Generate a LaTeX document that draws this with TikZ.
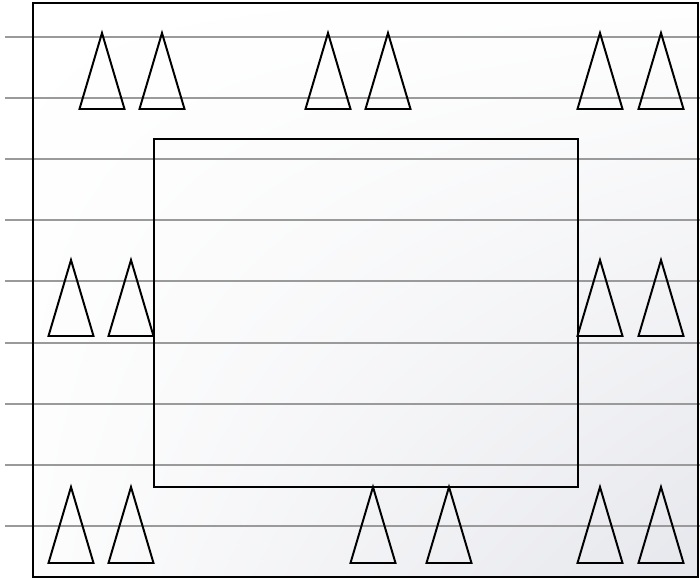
\documentclass[tikz,border=0pt]{standalone}
\usepackage{tikz}
\usepackage{xcolor}
\usetikzlibrary{shadings}

\definecolor{railgray}{HTML}{9A9A9A}
\definecolor{shadegray}{HTML}{E6E7EC}

\tikzset{
  rail/.style={draw=railgray, line width=1.6pt},
  frame/.style={draw=black, line width=1.4pt},
  cone/.style={draw=black, line width=1.4pt, line join=miter},
}

\begin{document}
\begin{tikzpicture}[x=0.025cm,y=-0.025cm]

\useasboundingbox (0,0) rectangle (700,580);

%------------------------------------------------
% Background
%------------------------------------------------

\shade[upper left=white, upper right=white!96!shadegray,
       lower left=white!90!shadegray, lower right=shadegray]
  (33,3) rectangle (698,577);

%------------------------------------------------
% Rails
%------------------------------------------------

\foreach \y in {37,98,159,220,281,343,404,465,526}
  \draw[rail] (5,\y) -- (700,\y);

%------------------------------------------------
% Outer and inner frame
%------------------------------------------------

\draw[frame] (33,3) rectangle (698,577);
\draw[frame] (154,139) rectangle (578,487);

%------------------------------------------------
% Cones
%------------------------------------------------

\foreach \x/\y in {102/33, 162/33, 328/33, 388/33, 600/33, 661/33,
                   71/260, 131/260, 600/260, 661/260,
                   71/487, 131/487, 373/487, 449/487, 600/487, 661/487}
  \draw[cone] (\x,\y) -- ++(22.5,76) -- ++(-45,0) -- cycle;

\end{tikzpicture}
\end{document}
